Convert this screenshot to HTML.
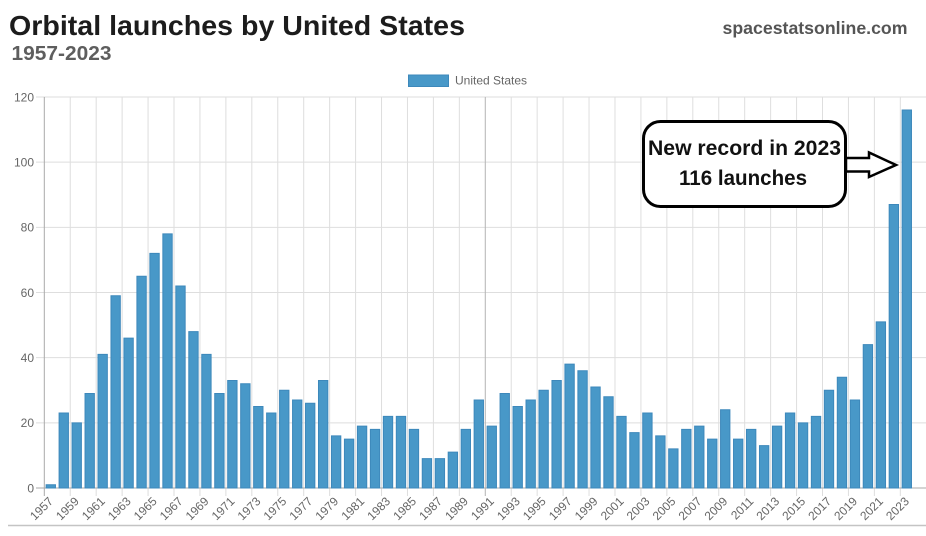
<!DOCTYPE html>
<html>
<head>
<meta charset="utf-8">
<style>
  html,body{margin:0;padding:0;background:#fff;}
  svg{display:block;}
  text{font-family:"Liberation Sans", Arial, sans-serif;}
</style>
</head>
<body>
<svg width="926" height="536" viewBox="0 0 926 536" xmlns="http://www.w3.org/2000/svg">
  <rect x="0" y="0" width="926" height="536" fill="#ffffff"/>

  <!-- Titles -->
  <text x="9" y="35" font-size="28" font-weight="bold" fill="#1c1c1c" textLength="456" lengthAdjust="spacingAndGlyphs">Orbital launches by United States</text>
  <text x="11.5" y="60" font-size="20" font-weight="bold" fill="#5e5e5e" textLength="100" lengthAdjust="spacingAndGlyphs">1957-2023</text>
  <text x="722.5" y="34" font-size="17.5" font-weight="bold" fill="#555555" textLength="185" lengthAdjust="spacingAndGlyphs">spacestatsonline.com</text>

  <!-- Legend -->
  <rect x="408.5" y="75" width="40" height="11.5" fill="#4898c8" stroke="#3d88bb" stroke-width="1"/>
  <text x="455" y="84.5" font-size="12" fill="#666666">United States</text>

  <!-- Horizontal gridlines -->
  <g stroke="#dedede" stroke-width="1">
    <line x1="36" y1="97" x2="926" y2="97"/>
    <line x1="36" y1="162.17" x2="926" y2="162.17"/>
    <line x1="36" y1="227.33" x2="926" y2="227.33"/>
    <line x1="36" y1="292.5" x2="926" y2="292.5"/>
    <line x1="36" y1="357.67" x2="926" y2="357.67"/>
    <line x1="36" y1="422.83" x2="926" y2="422.83"/>
  </g>

  <!-- Vertical gridlines -->
  <path stroke="#dedede" stroke-width="1" fill="none" d="
    M70.24 97V496 M96.18 97V496 M122.12 97V496 M148.06 97V496 M174 97V496
    M199.94 97V496 M225.88 97V496 M251.82 97V496 M277.76 97V496 M303.7 97V496
    M329.64 97V496 M355.58 97V496 M381.52 97V496 M407.46 97V496 M433.4 97V496
    M459.34 97V496 M511.22 97V496 M537.16 97V496 M563.1 97V496
    M589.04 97V496 M614.98 97V496 M640.92 97V496 M666.86 97V496 M692.8 97V496
    M718.74 97V496 M744.68 97V496 M770.62 97V496 M796.56 97V496 M822.5 97V496
    M848.44 97V496 M874.38 97V496 M900.32 97V496"/>
  <line x1="485.28" y1="97" x2="485.28" y2="496" stroke="#b4b4b4" stroke-width="1"/>

  <!-- Axes -->
  <line x1="44.3" y1="97" x2="44.3" y2="496" stroke="#a8a8a8" stroke-width="1"/>
  <line x1="36" y1="488" x2="926" y2="488" stroke="#a8a8a8" stroke-width="1"/>

  <!-- Y labels -->
  <g font-size="12" fill="#666666" text-anchor="end">
    <text x="34" y="101.3">120</text>
    <text x="34" y="166.5">100</text>
    <text x="34" y="231.6">80</text>
    <text x="34" y="296.8">60</text>
    <text x="34" y="362">40</text>
    <text x="34" y="427.1">20</text>
    <text x="34" y="492.3">0</text>
  </g>

  <!-- Bars -->
  <g transform="translate(0,488) scale(1,-3.2583)" fill="#4898c8" stroke="#3d88bb">
    <g vector-effect="non-scaling-stroke">
    <rect vector-effect="non-scaling-stroke" x="46.12" y="0" width="9.34" height="1"/>
    <rect vector-effect="non-scaling-stroke" x="59.09" y="0" width="9.34" height="23"/>
    <rect vector-effect="non-scaling-stroke" x="72.06" y="0" width="9.34" height="20"/>
    <rect vector-effect="non-scaling-stroke" x="85.03" y="0" width="9.34" height="29"/>
    <rect vector-effect="non-scaling-stroke" x="98.00" y="0" width="9.34" height="41"/>
    <rect vector-effect="non-scaling-stroke" x="110.97" y="0" width="9.34" height="59"/>
    <rect vector-effect="non-scaling-stroke" x="123.94" y="0" width="9.34" height="46"/>
    <rect vector-effect="non-scaling-stroke" x="136.91" y="0" width="9.34" height="65"/>
    <rect vector-effect="non-scaling-stroke" x="149.88" y="0" width="9.34" height="72"/>
    <rect vector-effect="non-scaling-stroke" x="162.85" y="0" width="9.34" height="78"/>
    <rect vector-effect="non-scaling-stroke" x="175.82" y="0" width="9.34" height="62"/>
    <rect vector-effect="non-scaling-stroke" x="188.79" y="0" width="9.34" height="48"/>
    <rect vector-effect="non-scaling-stroke" x="201.76" y="0" width="9.34" height="41"/>
    <rect vector-effect="non-scaling-stroke" x="214.73" y="0" width="9.34" height="29"/>
    <rect vector-effect="non-scaling-stroke" x="227.70" y="0" width="9.34" height="33"/>
    <rect vector-effect="non-scaling-stroke" x="240.67" y="0" width="9.34" height="32"/>
    <rect vector-effect="non-scaling-stroke" x="253.64" y="0" width="9.34" height="25"/>
    <rect vector-effect="non-scaling-stroke" x="266.61" y="0" width="9.34" height="23"/>
    <rect vector-effect="non-scaling-stroke" x="279.58" y="0" width="9.34" height="30"/>
    <rect vector-effect="non-scaling-stroke" x="292.55" y="0" width="9.34" height="27"/>
    <rect vector-effect="non-scaling-stroke" x="305.52" y="0" width="9.34" height="26"/>
    <rect vector-effect="non-scaling-stroke" x="318.49" y="0" width="9.34" height="33"/>
    <rect vector-effect="non-scaling-stroke" x="331.46" y="0" width="9.34" height="16"/>
    <rect vector-effect="non-scaling-stroke" x="344.43" y="0" width="9.34" height="15"/>
    <rect vector-effect="non-scaling-stroke" x="357.40" y="0" width="9.34" height="19"/>
    <rect vector-effect="non-scaling-stroke" x="370.37" y="0" width="9.34" height="18"/>
    <rect vector-effect="non-scaling-stroke" x="383.34" y="0" width="9.34" height="22"/>
    <rect vector-effect="non-scaling-stroke" x="396.31" y="0" width="9.34" height="22"/>
    <rect vector-effect="non-scaling-stroke" x="409.28" y="0" width="9.34" height="18"/>
    <rect vector-effect="non-scaling-stroke" x="422.25" y="0" width="9.34" height="9"/>
    <rect vector-effect="non-scaling-stroke" x="435.22" y="0" width="9.34" height="9"/>
    <rect vector-effect="non-scaling-stroke" x="448.19" y="0" width="9.34" height="11"/>
    <rect vector-effect="non-scaling-stroke" x="461.16" y="0" width="9.34" height="18"/>
    <rect vector-effect="non-scaling-stroke" x="474.13" y="0" width="9.34" height="27"/>
    <rect vector-effect="non-scaling-stroke" x="487.10" y="0" width="9.34" height="19"/>
    <rect vector-effect="non-scaling-stroke" x="500.07" y="0" width="9.34" height="29"/>
    <rect vector-effect="non-scaling-stroke" x="513.04" y="0" width="9.34" height="25"/>
    <rect vector-effect="non-scaling-stroke" x="526.01" y="0" width="9.34" height="27"/>
    <rect vector-effect="non-scaling-stroke" x="538.98" y="0" width="9.34" height="30"/>
    <rect vector-effect="non-scaling-stroke" x="551.95" y="0" width="9.34" height="33"/>
    <rect vector-effect="non-scaling-stroke" x="564.92" y="0" width="9.34" height="38"/>
    <rect vector-effect="non-scaling-stroke" x="577.89" y="0" width="9.34" height="36"/>
    <rect vector-effect="non-scaling-stroke" x="590.86" y="0" width="9.34" height="31"/>
    <rect vector-effect="non-scaling-stroke" x="603.83" y="0" width="9.34" height="28"/>
    <rect vector-effect="non-scaling-stroke" x="616.80" y="0" width="9.34" height="22"/>
    <rect vector-effect="non-scaling-stroke" x="629.77" y="0" width="9.34" height="17"/>
    <rect vector-effect="non-scaling-stroke" x="642.74" y="0" width="9.34" height="23"/>
    <rect vector-effect="non-scaling-stroke" x="655.71" y="0" width="9.34" height="16"/>
    <rect vector-effect="non-scaling-stroke" x="668.68" y="0" width="9.34" height="12"/>
    <rect vector-effect="non-scaling-stroke" x="681.65" y="0" width="9.34" height="18"/>
    <rect vector-effect="non-scaling-stroke" x="694.62" y="0" width="9.34" height="19"/>
    <rect vector-effect="non-scaling-stroke" x="707.59" y="0" width="9.34" height="15"/>
    <rect vector-effect="non-scaling-stroke" x="720.56" y="0" width="9.34" height="24"/>
    <rect vector-effect="non-scaling-stroke" x="733.53" y="0" width="9.34" height="15"/>
    <rect vector-effect="non-scaling-stroke" x="746.50" y="0" width="9.34" height="18"/>
    <rect vector-effect="non-scaling-stroke" x="759.47" y="0" width="9.34" height="13"/>
    <rect vector-effect="non-scaling-stroke" x="772.44" y="0" width="9.34" height="19"/>
    <rect vector-effect="non-scaling-stroke" x="785.41" y="0" width="9.34" height="23"/>
    <rect vector-effect="non-scaling-stroke" x="798.38" y="0" width="9.34" height="20"/>
    <rect vector-effect="non-scaling-stroke" x="811.35" y="0" width="9.34" height="22"/>
    <rect vector-effect="non-scaling-stroke" x="824.32" y="0" width="9.34" height="30"/>
    <rect vector-effect="non-scaling-stroke" x="837.29" y="0" width="9.34" height="34"/>
    <rect vector-effect="non-scaling-stroke" x="850.26" y="0" width="9.34" height="27"/>
    <rect vector-effect="non-scaling-stroke" x="863.23" y="0" width="9.34" height="44"/>
    <rect vector-effect="non-scaling-stroke" x="876.20" y="0" width="9.34" height="51"/>
    <rect vector-effect="non-scaling-stroke" x="889.17" y="0" width="9.34" height="87"/>
    <rect vector-effect="non-scaling-stroke" x="902.14" y="0" width="9.34" height="116"/>
    </g>
  </g>

  <!-- X labels -->
  <g font-size="12" fill="#666666" text-anchor="end">
    <text transform="translate(53.79,502) rotate(-45)">1957</text>
    <text transform="translate(79.73,502) rotate(-45)">1959</text>
    <text transform="translate(105.67,502) rotate(-45)">1961</text>
    <text transform="translate(131.61,502) rotate(-45)">1963</text>
    <text transform="translate(157.55,502) rotate(-45)">1965</text>
    <text transform="translate(183.49,502) rotate(-45)">1967</text>
    <text transform="translate(209.43,502) rotate(-45)">1969</text>
    <text transform="translate(235.37,502) rotate(-45)">1971</text>
    <text transform="translate(261.31,502) rotate(-45)">1973</text>
    <text transform="translate(287.25,502) rotate(-45)">1975</text>
    <text transform="translate(313.19,502) rotate(-45)">1977</text>
    <text transform="translate(339.13,502) rotate(-45)">1979</text>
    <text transform="translate(365.07,502) rotate(-45)">1981</text>
    <text transform="translate(391.01,502) rotate(-45)">1983</text>
    <text transform="translate(416.95,502) rotate(-45)">1985</text>
    <text transform="translate(442.89,502) rotate(-45)">1987</text>
    <text transform="translate(468.83,502) rotate(-45)">1989</text>
    <text transform="translate(494.77,502) rotate(-45)">1991</text>
    <text transform="translate(520.71,502) rotate(-45)">1993</text>
    <text transform="translate(546.65,502) rotate(-45)">1995</text>
    <text transform="translate(572.59,502) rotate(-45)">1997</text>
    <text transform="translate(598.53,502) rotate(-45)">1999</text>
    <text transform="translate(624.47,502) rotate(-45)">2001</text>
    <text transform="translate(650.41,502) rotate(-45)">2003</text>
    <text transform="translate(676.35,502) rotate(-45)">2005</text>
    <text transform="translate(702.29,502) rotate(-45)">2007</text>
    <text transform="translate(728.23,502) rotate(-45)">2009</text>
    <text transform="translate(754.17,502) rotate(-45)">2011</text>
    <text transform="translate(780.11,502) rotate(-45)">2013</text>
    <text transform="translate(806.05,502) rotate(-45)">2015</text>
    <text transform="translate(831.99,502) rotate(-45)">2017</text>
    <text transform="translate(857.93,502) rotate(-45)">2019</text>
    <text transform="translate(883.87,502) rotate(-45)">2021</text>
    <text transform="translate(909.81,502) rotate(-45)">2023</text>
  </g>

  <!-- Bottom separator -->
  <line x1="8" y1="525.5" x2="926" y2="525.5" stroke="#c4c4c4" stroke-width="1.5"/>

  <!-- Annotation -->
  <rect x="643.5" y="121.5" width="202" height="85" rx="17" ry="17" fill="#ffffff" stroke="#000000" stroke-width="3"/>
  <polygon points="846,158 869,158 869,152.5 896,165 869,177 869,171.5 846,171.5" fill="#ffffff" stroke="#000000" stroke-width="2.5" stroke-linejoin="miter"/>
  <text x="744.5" y="155" font-size="21" font-weight="bold" fill="#111111" text-anchor="middle" textLength="193" lengthAdjust="spacingAndGlyphs">New record in 2023</text>
  <text x="743" y="185" font-size="21" font-weight="bold" fill="#111111" text-anchor="middle" textLength="128" lengthAdjust="spacingAndGlyphs">116 launches</text>
</svg>
</body>
</html>
